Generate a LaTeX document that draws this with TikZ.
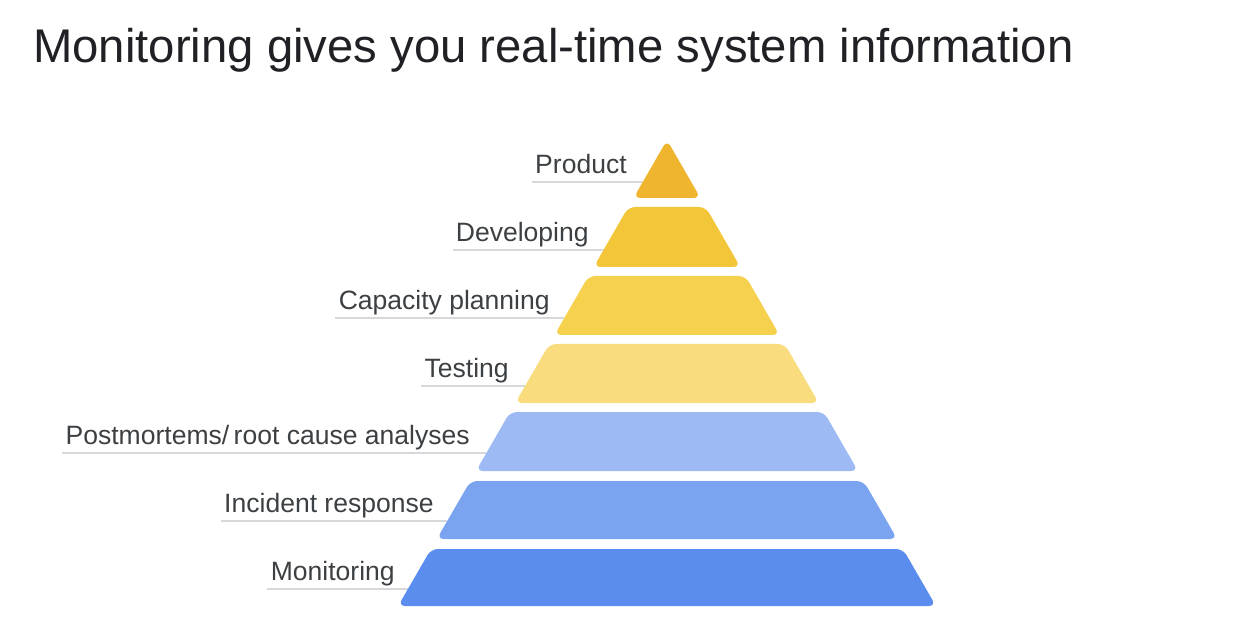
\documentclass[tikz,border=0pt]{standalone}
\usepackage{fontspec}
\setmainfont{Liberation Sans}
\usepackage{tikz}
\usetikzlibrary{positioning, calc}
\definecolor{titleblack}{RGB}{32,33,36}
\definecolor{labelgray}{RGB}{60,64,67}
\definecolor{linegray}{RGB}{214,216,220}
\definecolor{tierproduct}{RGB}{240,181,46}
\definecolor{tierdevelop}{RGB}{243,198,58}
\definecolor{tiercapacity}{RGB}{245,209,78}
\definecolor{tiertesting}{RGB}{248,220,126}
\definecolor{tierpostmortem}{RGB}{157,186,245}
\definecolor{tierincident}{RGB}{122,163,240}
\definecolor{tiermonitor}{RGB}{91,141,239}
\tikzset{
  layer/.style={rounded corners=4pt},
  tierlabel/.style={anchor=base east, inner sep=1.7pt,
    font=\fontsize{15.1}{18}\selectfont, text=labelgray},
  titletext/.style={anchor=base west, inner sep=0pt,
    font=\fontsize{26.9}{32}\selectfont, text=titleblack},
  underline/.style={line width=1.1pt, color=linegray}
}

\begin{document}
\begin{tikzpicture}[x=0.02cm, y=-0.02cm]
  \useasboundingbox (0,0) rectangle (1239,624);

  % Title
  \node (title) [titletext] at (33,63) {Monitoring gives you real-time system information};

  % Edge points of the underlines
  \coordinate (eProduct)    at (642.8,182);
  \coordinate (eDevelop)    at (603.5,250);
  \coordinate (eCapacity)   at (564.3,318);
  \coordinate (eTesting)    at (525.1,386);
  \coordinate (ePostmortem) at (486.4,453);
  \coordinate (eIncident)   at (447.2,521);
  \coordinate (eMonitor)    at (407.9,589);

  % Labels
  \node (lProduct)    [tierlabel] at (630,173.5) {Product};
  \node (lDevelop)    [tierlabel] at (592,241.5) {Developing};
  \node (lCapacity)   [tierlabel] at (553,309.5) {Capacity planning};
  \node (lTesting)    [tierlabel] at (512,377.5) {Testing};
  \node (lPostmortem) [tierlabel] at (473,444.5) {Postmortems/\,root cause analyses};
  \node (lIncident)   [tierlabel] at (437,512.5) {Incident response};
  \node (lMonitor)    [tierlabel] at (398,580.5) {Monitoring};

  % Underlines
  \draw[underline] (lProduct.west |- eProduct) -- (eProduct);
  \draw[underline] (lDevelop.west |- eDevelop) -- (eDevelop);
  \draw[underline] (lCapacity.west |- eCapacity) -- (eCapacity);
  \draw[underline] (lTesting.west |- eTesting) -- (eTesting);
  \draw[underline] (lPostmortem.west |- ePostmortem) -- (ePostmortem);
  \draw[underline] (lIncident.west |- eIncident) -- (eIncident);
  \draw[underline] (lMonitor.west |- eMonitor) -- (eMonitor);

  % Pyramid layers
  \fill[layer, fill=tierproduct] (667,140) -- (700.5,198) -- (633.5,198) -- cycle;
  \fill[layer, fill=tierdevelop] (628.3,207) -- (705.7,207) -- (740.3,267) -- (593.7,267) -- cycle;
  \fill[layer, fill=tiercapacity] (588.5,276) -- (745.5,276) -- (779.5,335) -- (554.5,335) -- cycle;
  \fill[layer, fill=tiertesting] (549.3,344) -- (784.7,344) -- (818.8,403) -- (515.2,403) -- cycle;
  \fill[layer, fill=tierpostmortem] (510,412) -- (824,412) -- (858,471) -- (476,471) -- cycle;
  \fill[layer, fill=tierincident] (470.4,481) -- (863.6,481) -- (897.2,539) -- (436.8,539) -- cycle;
  \fill[layer, fill=tiermonitor] (431,549) -- (903,549) -- (935.9,606) -- (398.1,606) -- cycle;
\end{tikzpicture}
\end{document}
